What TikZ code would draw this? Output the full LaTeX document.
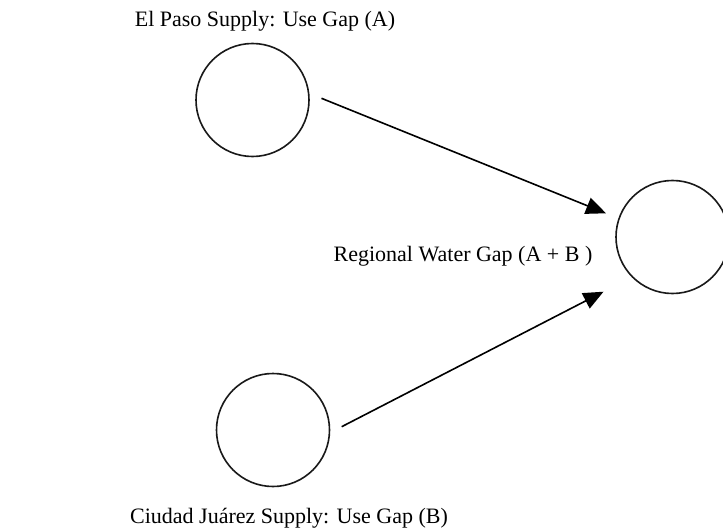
\documentclass[tikz,border=0pt]{standalone}
\usepackage{fontspec}
\setmainfont{Liberation Serif}
\usetikzlibrary{arrows.meta}
\begin{document}
\begin{tikzpicture}[x=1pt,y=-1pt,
  bub/.style={draw=black!90,line width=1.6pt,circle,minimum size=113pt,inner sep=0pt},
  lbl/.style={font=\fontsize{22}{26}\selectfont,inner sep=0pt,anchor=base},
  conn/.style={line width=1.6pt,-{Triangle[length=20pt,width=17pt]}}]
\useasboundingbox (0,0) rectangle (723,532);
\node[bub] (a) at (252.5,100) {};
\node[bub] (c) at (672.5,237) {};
\node[bub] (b) at (273,430) {};
\node[lbl] (ta) at (265,27) {El Paso Supply: Use Gap (A)};
\node[lbl] (tc) at (463,261.5) {Regional Water Gap (A + B )};
\node[lbl] (tb) at (289,523) {Ciudad Juárez Supply: Use Gap (B)};
\coordinate (a1) at (321.5,98.3);
\coordinate (a2) at (606,213.3);
\coordinate (b1) at (341.7,426.7);
\coordinate (b2) at (603.5,291.7);
\draw[conn] (a1) -- (a2);
\draw[conn] (b1) -- (b2);
\end{tikzpicture}
\end{document}
